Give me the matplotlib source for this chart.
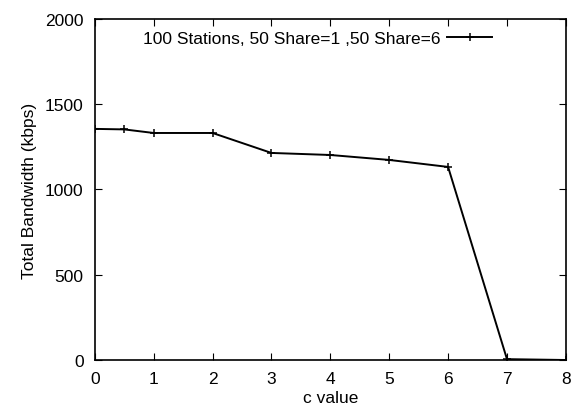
import matplotlib
matplotlib.use("Agg")
import matplotlib.pyplot as plt

plt.rcParams['font.family'] = ['Liberation Sans', 'DejaVu Sans']

# valores
c_valores = [0, 0.5, 1, 2, 3, 4, 5, 6, 7, 8]
ancho_banda = [1355, 1352, 1331, 1331, 1214, 1202, 1173, 1132, 5, 0]
etiqueta = '100 Stations, 50 Share=1 ,50 Share=6'

fig = plt.figure(figsize=(5.71, 4.14), dpi=100)
ax = fig.add_axes([0.166, 0.128, 0.825, 0.824])

ax.plot(c_valores, ancho_banda, color='black', linewidth=1.4,
        marker='+', markersize=6, markeredgewidth=1.1, label=etiqueta)

ax.set_xlim(0, 8)
ax.set_ylim(0, 2000)
ax.set_xticks(range(0, 9))
ax.set_yticks([0, 500, 1000, 1500, 2000])
ax.tick_params(direction='in', top=True, right=True, labelsize=12.5, length=5, pad=8)
for s in ax.spines.values():
    s.set_linewidth(1.2)

ax.set_xlabel('c value', fontsize=12.5, labelpad=3)
ax.set_ylabel('Total Bandwidth (kbps)', fontsize=12.5, labelpad=6)

ax.legend(loc='upper right', bbox_to_anchor=(0.87, 1.0), frameon=False,
          markerfirst=False, fontsize=12.5, handlelength=2.6,
          borderaxespad=0.3, handletextpad=0.4)

fig.savefig('out.png', dpi=100)
